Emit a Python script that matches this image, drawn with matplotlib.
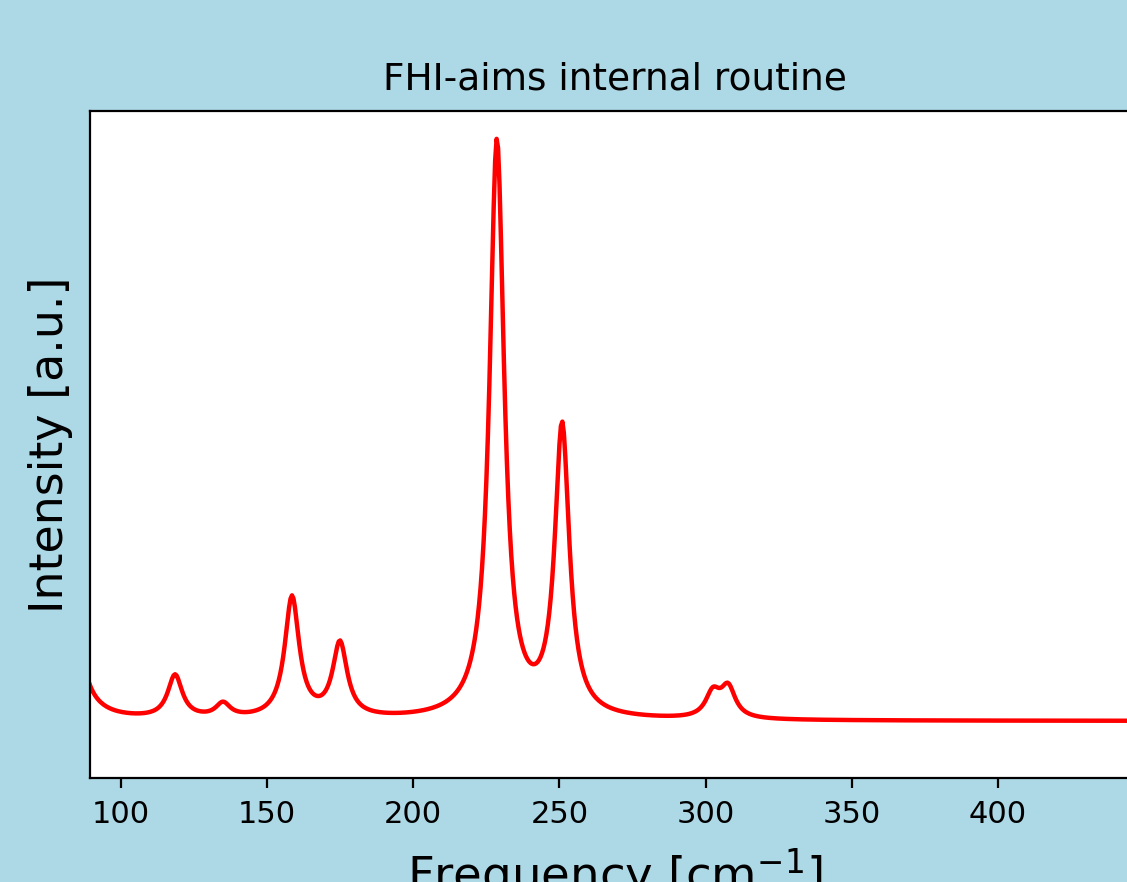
import numpy as np
import matplotlib
matplotlib.use('Agg')
import matplotlib.pyplot as plt

# Mode frequencies (cm^-1) and intensities (a.u.)
mode_freqs = [81.4, 118.5, 134.9, 158.5, 174.9, 228.6, 250.9, 302.5, 307.7]
mode_intensities = [280, 43, 14, 121, 74, 577, 289, 24.5, 30.2]
# Lorentzian half width (cm^-1) and constant offset of the curve
broadening = 3.0
offset = 57.0

freq_grid = np.arange(0.0, 500.0, 0.5)


def broaden(freqs, intens, gamma, grid):
    spec = np.zeros_like(grid)
    for f, a in zip(freqs, intens):
        spec += a * gamma**2 / ((grid - f)**2 + gamma**2)
    return spec


spectrum = broaden(mode_freqs, mode_intensities, broadening, freq_grid) + offset

fig = plt.figure(figsize=(1127 / 200, 882 / 200), dpi=200, facecolor='lightblue')
ax = fig.add_axes([90 / 1127, 104 / 882, 1050 / 1127, 667 / 882])
ax.plot(freq_grid, spectrum, color='red', linewidth=1.6)
ax.set_xlim(89.4, 448.6)
ax.set_ylim(0, 667)
ax.set_yticks([])
ax.tick_params(axis='x', labelsize=11, pad=4.5)
ax.set_title('FHI-aims internal routine', fontsize=13.5, pad=7.8)
ax.set_xlabel('Frequency [cm$^{-1}$]', fontsize=16.8, labelpad=6)
ax.set_ylabel('Intensity [a.u.]', fontsize=16.5, labelpad=6)

fig.savefig('out.png', dpi=200, facecolor='lightblue')
